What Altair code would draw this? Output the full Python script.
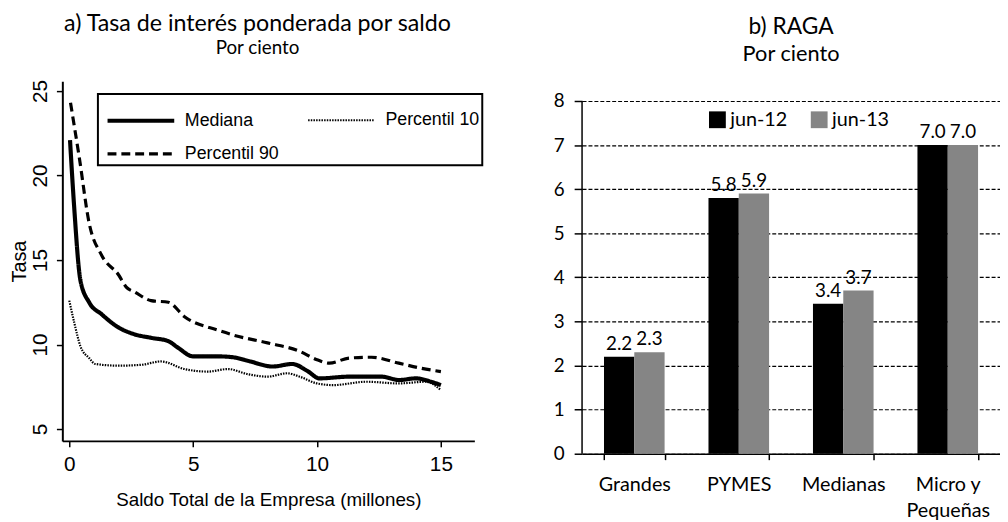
import altair as alt
import pandas as pd

# ---------------- Panel a) data ----------------
series_names = ["Mediana", "Percentil 90", "Percentil 10"]

med_x = [0.03, 0.19, 0.45, 0.8, 1.3, 2.0, 2.65, 3.3, 4.0, 4.4, 5.0, 6.0, 6.6, 7.3, 8.2, 9.0, 9.6, 10.1, 11.3, 12.6, 13.3, 14.0, 14.6, 15.0]
med_y = [22.1, 18.3, 13.8, 12.5, 11.8, 11.0, 10.6, 10.4, 10.2, 9.8, 9.3, 9.3, 9.25, 9.0, 8.7, 8.85, 8.45, 8.0, 8.1, 8.1, 7.9, 8.0, 7.8, 7.6]

p10_x = [0.0, 0.2, 0.45, 0.8, 1.05, 2.0, 2.9, 3.7, 4.65, 5.6, 6.4, 7.2, 8.0, 8.8, 9.3, 10.0, 10.65, 12.0, 13.3, 14.4, 15.0]
p10_y = [12.6, 11.3, 9.9, 9.2, 8.85, 8.75, 8.8, 9.0, 8.55, 8.4, 8.55, 8.25, 8.1, 8.3, 8.1, 7.7, 7.6, 7.8, 7.7, 7.8, 7.3]

p90_x = [0.05, 0.4, 0.8, 1.3, 2.0, 2.3, 2.65, 3.3, 4.0, 4.65, 6.0, 6.65, 8.0, 9.3, 10.0, 10.5, 11.3, 12.2, 13.3, 14.2, 15.0]
p90_y = [24.3, 21.1, 17.2, 15.3, 14.1, 13.4, 13.1, 12.6, 12.5, 11.65, 10.85, 10.55, 10.1, 9.6, 9.1, 8.9, 9.2, 9.25, 8.9, 8.6, 8.4]

x_ticks_a = [0, 5, 10, 15]
y_ticks_a = [5, 10, 15, 20, 25]

# ---------------- Panel b) data ----------------
categories = ["Grandes", "PYMES", "Medianas", "Micro y Pequeñas"]
periods = ["jun-12", "jun-13"]
jun12 = [2.2, 5.8, 3.4, 7.0]
jun13 = [2.3, 5.9, 3.7, 7.0]
y_ticks_b = [0, 1, 2, 3, 4, 5, 6, 7, 8]

# ---------------- tables ----------------
rows = []
for name, xs, ys in [("Mediana", med_x, med_y), ("Percentil 10", p10_x, p10_y), ("Percentil 90", p90_x, p90_y)]:
    for xv, yv in zip(xs, ys):
        rows.append({"serie": name, "x": xv, "y": yv})
lines_df = pd.DataFrame(rows)

bars_df = pd.DataFrame({
    "cat": categories * 2,
    "periodo": [periods[0]] * 4 + [periods[1]] * 4,
    "valor": jun12 + jun13,
})

ARIAL = "Liberation Sans, Arial, sans-serif"
CAL = "Lato, Carlito, Open Sans, sans-serif"

leg_a = alt.Legend(
    title=None, orient="none", legendX=36, legendY=13, columns=2,
    strokeColor="black", padding=2, fillColor="white",
    labelFont=ARIAL, labelFontSize=18, labelColor="black",
    symbolType="M-1.5,0H1.5", symbolSize=2025, symbolStrokeColor="black",
    symbolFillColor="transparent",
    symbolOffset=16.5, rowPadding=0, columnPadding=21, labelOffset=19.5,
)

left = alt.Chart(lines_df).mark_line(color="black", interpolate="monotone").encode(
    x=alt.X("x:Q",
            scale=alt.Scale(domain=[-0.28, 16.35], nice=False, zero=False),
            axis=alt.Axis(values=x_ticks_a, title="Saldo Total de la Empresa (millones)",
                          grid=False, domainColor="black", domainWidth=2,
                          tickColor="black", tickWidth=1.5, tickSize=6,
                          labelFont=ARIAL, labelFontSize=21, labelColor="black", labelPadding=7,
                          titleFont=ARIAL, titleFontSize=19, titleFontWeight="normal",
                          titleColor="black", titlePadding=16)),
    y=alt.Y("y:Q",
            scale=alt.Scale(domain=[4.3, 25.58], nice=False, zero=False),
            axis=alt.Axis(values=y_ticks_a, title="Tasa", grid=False,
                          domainColor="black", domainWidth=2,
                          tickColor="black", tickWidth=1.5, tickSize=6,
                          labelAngle=-90, labelAlign="center", labelBaseline="bottom",
                          labelFont=ARIAL, labelFontSize=21, labelColor="black", labelPadding=6,
                          titleFont=ARIAL, titleFontSize=20, titleFontWeight="normal",
                          titleColor="black", titlePadding=0)),
    strokeDash=alt.StrokeDash("serie:N",
                              scale=alt.Scale(domain=series_names, range=[[1, 0], [9, 5], [1.5, 1.2]]),
                              legend=leg_a),
    strokeWidth=alt.StrokeWidth("serie:N",
                                scale=alt.Scale(domain=series_names, range=[4.2, 2.2, 2.4]),
                                legend=leg_a),
).properties(
    width=417, height=364,
    title=alt.TitleParams(
        text="a) Tasa de interés ponderada por saldo", subtitle="Por ciento",
        font=CAL, fontSize=23.5, fontWeight="normal", color="black",
        subtitleFont=CAL, subtitleFontSize=19, subtitleColor="black", subtitlePadding=4,
        anchor="middle", dx=-11, offset=22,
    ),
)

# ---------------- Panel b) ----------------
xenc = alt.X("cat:N", sort=categories,
             scale=alt.Scale(domain=categories, paddingInner=0.42, paddingOuter=0.21),
             axis=alt.Axis(title=None, tickBand="extent", domainColor="black", domainWidth=1.5,
                           tickColor="black", tickWidth=1.5, tickSize=6,
                           labelFont=CAL, labelFontSize=20, labelColor="black", labelAngle=0,
                           labelPadding=15, labelLineHeight=27,
                           labelExpr="datum.value == 'Micro y Pequeñas' ? ['Micro y', 'Pequeñas'] : datum.label"))
xoff = alt.XOffset("periodo:N", sort=periods, scale=alt.Scale(domain=periods, paddingInner=0, paddingOuter=0))
yscale = alt.Scale(domain=[0, 8.448], nice=False, zero=True)

base_b = alt.Chart(bars_df)

bars = base_b.mark_bar().encode(
    x=xenc,
    xOffset=xoff,
    y=alt.Y("valor:Q", scale=yscale,
            axis=alt.Axis(values=y_ticks_b, title=None, domain=False,
                          grid=True, gridColor="black", gridDash=[4, 2], gridWidth=1.2,
                          tickColor="black", tickWidth=1.5, tickSize=8,
                          labelFont=CAL, labelFontSize=19, labelColor="black", labelPadding=10)),
    color=alt.Color("periodo:N",
                    scale=alt.Scale(domain=periods, range=["black", "#858585"]),
                    legend=alt.Legend(title=None, orient="none", legendX=127, legendY=29,
                                      direction="horizontal", symbolType="square", symbolSize=289,
                                      symbolStrokeWidth=0,
                                      labelFont=CAL, labelFontSize=20, labelColor="black",
                                      labelOffset=3, columnPadding=22)),
)

labels = base_b.mark_text(baseline="bottom", dy=-3, font=CAL, fontSize=19, color="black").encode(
    x=xenc,
    xOffset=xoff,
    y=alt.Y("valor:Q", scale=yscale),
    text=alt.Text("valor:Q", format=".1f"),
)

axis_line = alt.Chart(pd.DataFrame({"y0": [y_ticks_b[0]], "y1": [y_ticks_b[-1]]})).mark_rule(
    color="black", strokeWidth=1.5
).encode(
    x=alt.value(0),
    y=alt.Y("y0:Q", scale=yscale),
    y2="y1:Q",
)

right = alt.layer(bars, labels, axis_line).properties(
    width=423, height=377,
    title=alt.TitleParams(
        text="b) RAGA", subtitle="Por ciento",
        font=CAL, fontSize=23, fontWeight="normal", color="black",
        subtitleFont=CAL, subtitleFontSize=22, subtitleColor="black", subtitlePadding=6,
        anchor="middle", offset=16,
    ),
)

chart = alt.hconcat(left, right, spacing=109, bounds="flush").resolve_scale(
    color="independent", strokeDash="independent", strokeWidth="independent"
).properties(
    padding={"left": 2, "top": 0, "right": 0, "bottom": 0}
).configure_view(stroke=None).configure_legend(strokeWidth=2)

chart.save("out.html", embed_options={"renderer": "svg", "actions": False})
